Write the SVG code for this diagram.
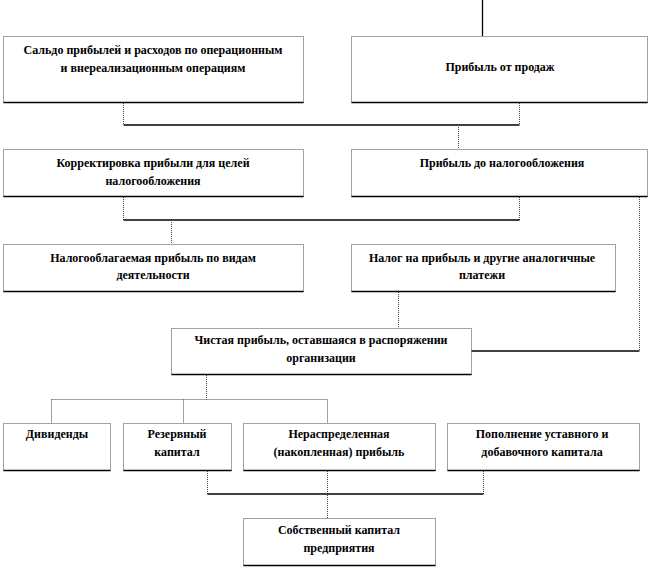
<svg xmlns="http://www.w3.org/2000/svg" width="654" height="569" viewBox="0 0 654 569">
<style>
.box rect{fill:#fff;stroke:#444;stroke-width:1;stroke-dasharray:1 1}
.box line{stroke:#000;stroke-width:1.3}
.box text{font-family:"Liberation Serif","Times New Roman",serif;font-weight:bold;font-size:12px;fill:#000;text-anchor:middle}
.dot{stroke:#444;stroke-width:1;stroke-dasharray:1 1;fill:none}
.sol{stroke:#000;stroke-width:1.3;fill:none}
</style>
<rect width="654" height="569" fill="#fff"/>
<g id="connectors">
<line class="sol" x1="482.5" y1="0" x2="482.5" y2="36"/>
<line class="dot" x1="123.5" y1="103" x2="123.5" y2="125"/>
<line class="dot" x1="519.5" y1="103" x2="519.5" y2="125"/>
<line class="sol" x1="123.5" y1="125" x2="519.5" y2="125"/>
<line class="dot" x1="458.5" y1="125" x2="458.5" y2="149"/>
<line class="dot" x1="123.5" y1="197" x2="123.5" y2="220"/>
<line class="dot" x1="519.5" y1="197" x2="519.5" y2="220"/>
<line class="sol" x1="123.5" y1="220" x2="519.5" y2="220"/>
<line class="dot" x1="171.5" y1="220" x2="171.5" y2="244"/>
<line class="dot" x1="639.5" y1="197" x2="639.5" y2="351"/>
<line class="sol" x1="471" y1="351" x2="639.5" y2="351"/>
<line class="dot" x1="398.5" y1="292" x2="398.5" y2="328"/>
<line class="dot" x1="206.5" y1="375" x2="206.5" y2="399.5"/>
<line class="dot" x1="51.5" y1="399.5" x2="327.5" y2="399.5"/>
<line class="dot" x1="51.5" y1="399.5" x2="51.5" y2="423"/>
<line class="dot" x1="183.5" y1="399.5" x2="183.5" y2="423"/>
<line class="dot" x1="327.5" y1="399.5" x2="327.5" y2="423"/>
<line class="dot" x1="207.5" y1="471" x2="207.5" y2="494"/>
<line class="dot" x1="327.5" y1="471" x2="327.5" y2="518"/>
<line class="dot" x1="483.5" y1="471" x2="483.5" y2="494"/>
<line class="sol" x1="207.5" y1="494" x2="483.5" y2="494"/>
</g>
<g id="n1" class="box"><rect x="3.5" y="36.5" width="300" height="66"/><line x1="3.5" y1="102.5" x2="303.5" y2="102.5"/>
<text x="153" y="54">Сальдо прибылей и расходов по операционным</text><text x="153" y="72">и внереализационным операциям</text></g>
<g id="n2" class="box"><rect x="351.5" y="36.5" width="296" height="66"/><line x1="351.5" y1="102.5" x2="647.5" y2="102.5"/>
<text x="500" y="71">Прибыль от продаж</text></g>
<g id="n3" class="box"><rect x="3.5" y="149.5" width="300" height="47"/><line x1="3.5" y1="196.5" x2="303.5" y2="196.5"/>
<text x="153" y="167">Корректировка прибыли для целей</text><text x="153" y="185">налогообложения</text></g>
<g id="n4" class="box"><rect x="351.5" y="149.5" width="296" height="47"/><line x1="351.5" y1="196.5" x2="647.5" y2="196.5"/>
<text x="502" y="167">Прибыль до налогообложения</text></g>
<g id="n5" class="box"><rect x="3.5" y="244.5" width="300" height="47"/><line x1="3.5" y1="291.5" x2="303.5" y2="291.5"/>
<text x="153" y="262">Налогооблагаемая прибыль по видам</text><text x="153" y="279">деятельности</text></g>
<g id="n6" class="box"><rect x="351.5" y="244.5" width="264" height="47"/><line x1="351.5" y1="291.5" x2="615.5" y2="291.5"/>
<text x="482" y="262">Налог на прибыль и другие аналогичные</text><text x="482" y="279">платежи</text></g>
<g id="n7" class="box"><rect x="171.5" y="328.5" width="300" height="46"/><line x1="171.5" y1="374.5" x2="471.5" y2="374.5"/>
<text x="321" y="344">Чистая прибыль, оставшаяся в распоряжении</text><text x="321" y="362">организации</text></g>
<g id="n8" class="box"><rect x="3.5" y="423.5" width="107" height="47"/><line x1="3.5" y1="470.5" x2="110.5" y2="470.5"/>
<text x="57" y="438">Дивиденды</text></g>
<g id="n9" class="box"><rect x="123.5" y="423.5" width="108" height="47"/><line x1="123.5" y1="470.5" x2="231.5" y2="470.5"/>
<text x="177" y="438">Резервный</text><text x="177" y="456">капитал</text></g>
<g id="n10" class="box"><rect x="243.5" y="423.5" width="192" height="47"/><line x1="243.5" y1="470.5" x2="435.5" y2="470.5"/>
<text x="339" y="438">Нераспределенная</text><text x="339" y="456">(накопленная) прибыль</text></g>
<g id="n11" class="box"><rect x="447.5" y="423.5" width="192" height="47"/><line x1="447.5" y1="470.5" x2="639.5" y2="470.5"/>
<text x="542" y="438">Пополнение уставного и</text><text x="542" y="456">добавочного капитала</text></g>
<g id="n12" class="box"><rect x="243.5" y="518.5" width="192" height="47"/><line x1="243.5" y1="565.5" x2="435.5" y2="565.5"/>
<text x="339" y="534">Собственный капитал</text><text x="339" y="552">предприятия</text></g>
</svg>
